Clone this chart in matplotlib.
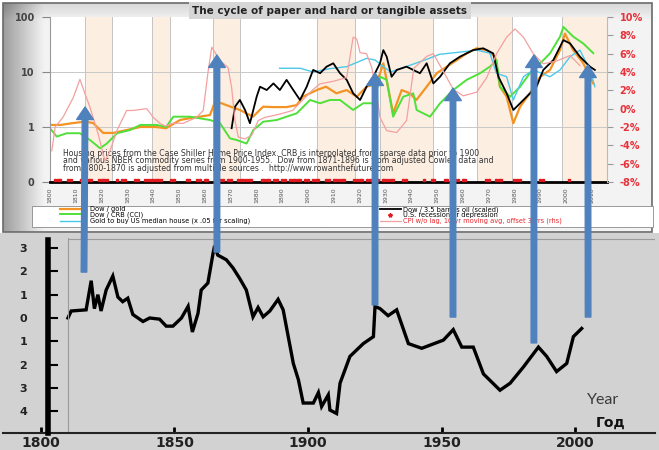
import numpy as np
import matplotlib.pyplot as plt
from matplotlib.patches import Rectangle, ConnectionPatch
from matplotlib.lines import Line2D

# size of the picture in pixels
W, H = 659, 450

# ---------------- top chart: the cycle of paper and hard assets ----------------
# Dow / gold
dg_years = [1800, 1804, 1809, 1813.6, 1816.7, 1820.6, 1824.5, 1829.7, 1835, 1841, 1845, 1850.4, 1854, 1858,
            1862, 1864, 1866.5, 1870, 1873.6, 1878.7, 1882.6, 1886.6, 1891.7, 1895.6, 1898, 1900.8, 1903.4,
            1907, 1911, 1915, 1918.9, 1922.7, 1926.6, 1929.2, 1933, 1936.3, 1939.5, 1942, 1946, 1949.9,
            1953.8, 1957.7, 1961.5, 1965.4, 1969.3, 1972.5, 1974.4, 1977, 1979.6, 1982.2, 1986, 1990,
            1993.8, 1997.7, 1999.6, 2002.8, 2006.7, 2010.6]
dg_vals = [1.09, 1.09, 1.18, 1.25, 1.18, 0.78, 0.78, 0.88, 1.0, 1.0, 0.95, 1.34, 1.44, 1.54,
           1.65, 2.9, 2.7, 2.34, 2.04, 1.54, 2.34, 2.3, 2.3, 2.5, 3.55, 4.1, 4.7,
           5.4, 4.1, 4.7, 3.55, 5.4, 6.2, 14.4, 1.77, 4.7, 4.1, 3.1, 5.4, 9.5,
           12.5, 16.5, 21.8, 27, 25, 19, 5.4, 3.55, 1.17, 2.34, 4.1, 8.2,
           10.9, 25, 50, 25, 14.4, 6.2]

# Dow / CRB
dc_years = [1800, 1802.6, 1806.5, 1811.6, 1815.5, 1819.4, 1822, 1826, 1831, 1835, 1841.3, 1845, 1847.8,
            1854.3, 1862, 1865.9, 1869.8, 1872.4, 1876.2, 1878.8, 1882.7, 1887.9, 1891.7, 1895.6, 1898.2,
            1900.8, 1904.7, 1908.5, 1912.4, 1917.5, 1921.4, 1925.3, 1928, 1930.5, 1933, 1936.9, 1940.8,
            1942.1, 1947.3, 1951.2, 1956.3, 1961.5, 1966.7, 1970.5, 1973.1, 1974.4, 1978.3, 1982.2, 1986,
            1990, 1993.8, 1997.7, 1999, 2002.8, 2006.7, 2010.6]
dc_vals = [0.95, 0.67, 0.77, 0.77, 0.58, 0.41, 0.5, 0.77, 0.88, 1.09, 1.09, 1.0, 1.54,
           1.54, 1.34, 1.17, 0.62, 0.58, 0.5, 0.88, 1.25, 1.34, 1.54, 1.77, 2.34,
           3.1, 2.7, 3.1, 3.1, 2.04, 2.7, 2.7, 8.2, 7.2, 1.54, 3.55, 4.1,
           2.04, 1.54, 2.7, 4.7, 7.2, 9.5, 12.5, 16.5, 5.4, 3.55, 5.4, 9.5,
           14.4, 21.8, 44, 66, 44, 33, 22]

# gold to buy US median house
gh_years = [1889, 1897, 1902, 1908.5, 1915, 1922.7, 1926, 1932, 1938, 1947, 1951, 1959, 1965.4, 1970.5,
            1973, 1977, 1979.6, 1983.5, 1987.3, 1993.8, 1997.7, 2001.6, 2005.4, 2009.3, 2011.2]
gh_vals = [11.7, 11.7, 10, 11.5, 12.5, 17.7, 16.5, 10, 12.5, 17.7, 21, 23, 25, 22,
           9.5, 8.2, 3.1, 8.2, 10.9, 8.2, 10.9, 19, 25, 10.9, 5.4]

# Dow / 3.5 barrels oil
do_years = [1870.4, 1871.7, 1873.6, 1875.6, 1877.5, 1880.1, 1881.4, 1884, 1886.6, 1889.1, 1891.7, 1894.3,
            1896.9, 1899.5, 1902, 1904.7, 1907.2, 1909.8, 1912.4, 1915, 1917.5, 1920.2, 1922.7, 1925.3,
            1927.9, 1929.2, 1930.5, 1932.4, 1934.4, 1938.2, 1943.4, 1946, 1948.6, 1951.2, 1955, 1958.9,
            1964, 1967.9, 1971.8, 1973.8, 1977, 1979.6, 1983.5, 1988.6, 1991.2, 1995.1, 1999, 2001.6,
            2005.4, 2009.3, 2011.2]
do_vals = [0.95, 2.34, 3.1, 2.04, 1.17, 3.55, 5.4, 4.7, 6.2, 4.7, 7.2, 4.7,
           3.1, 5.4, 10.9, 9.5, 12.5, 14.4, 9.5, 7.2, 4.1, 3.1, 5.4, 8.2,
           14.4, 25, 19, 8.2, 10.9, 12.5, 9.5, 14.4, 6.2, 8.2, 14.4, 19,
           25, 27, 21.8, 8.2, 4.1, 2.04, 3.1, 5.4, 10.9, 16.5, 38, 33,
           19, 12.5, 10.9]

# CPI, 10 yr moving avg (right axis, %)
cpi_years = [1800.7, 1802, 1805, 1809, 1811.6, 1813.6, 1815.5, 1818.7, 1821.3, 1823.3, 1825.9, 1829.7,
             1832, 1837.5, 1840, 1842.6, 1844.6, 1847.7, 1851.6, 1856.8, 1859.4, 1861.3, 1862.7, 1864,
             1866, 1869, 1870.4, 1871.7, 1873, 1875.6, 1878.2, 1880.7, 1883.3, 1889, 1894, 1902, 1904.6,
             1910, 1915, 1917.5, 1918.9, 1920.2, 1922.7, 1924.7, 1926.6, 1927.9, 1930.5, 1934.4, 1938.2,
             1941, 1946, 1948.6, 1952.4, 1956.3, 1960.2, 1965.4, 1969.3, 1973.1, 1977, 1980.2, 1983.5,
             1987.3, 1991.2, 1996.4, 2001.6, 2005.4]
cpi_vals = [-4.6, -2.0, -0.95, 1.2, 3.2, 1.6, 0.15, -2.8, -5.7, -4.6, -2.4, -0.2,
            -0.2, 0, -0.95, -1.6, -1.9, -1.6, -1.6, -0.95, -0.2, 4.1, 6.7, 6.1,
            5.2, 4.5, 2.3, -1.3, -3.1, -3.3, -2.9, -1.3, -0.95, -0.6, -0.2, 2.1, 2.7,
            3.0, 3.4, 7.8, 7.6, 6.1, 6.0, 4.5, 1.6, -0.95, -2.4, -2.6, -1.3,
            4.4, 5.7, 6.0, 4.1, 2.1, 1.4, 1.8, 3.4, 6.0, 7.8, 8.7, 7.8,
            6.0, 4.9, 5.2, 5.8, 4.7]

# years marked as U.S. recession or depression
rec_years = [1802, 1803, 1804, 1807, 1808, 1812, 1815, 1816, 1819, 1820, 1821, 1822, 1826, 1828, 1829,
             1833, 1834, 1837, 1838, 1839, 1840, 1841, 1842, 1843, 1847, 1848, 1853, 1854, 1857, 1858,
             1860, 1861, 1865, 1866, 1867, 1869, 1870, 1873, 1874, 1875, 1876, 1877, 1878, 1882, 1883,
             1884, 1885, 1887, 1888, 1890, 1891, 1893, 1894, 1895, 1896, 1897, 1899, 1900, 1902, 1903,
             1904, 1907, 1908, 1910, 1911, 1912, 1913, 1914, 1918, 1919, 1920, 1921, 1923, 1924, 1926,
             1927, 1929, 1930, 1931, 1932, 1933, 1937, 1938, 1945, 1948, 1949, 1953, 1954, 1957, 1958,
             1960, 1961, 1969, 1970, 1973, 1974, 1975, 1980, 1981, 1982, 1990, 1991, 2001, 2008, 2009]

# shaded periods (hard assets)
band_start = [1813.6, 1839.5, 1863, 1903.4, 1928, 1965.5, 1998.5]
band_end = [1824, 1846.5, 1873.6, 1918.2, 1948.4, 1979, 2016]

top_year_ticks = list(range(1800, 2011, 10))
left_ticks = [0.1, 1, 10, 100]
left_labels = ['0', '1', '10', '100']
right_ticks = [-8, -6, -4, -2, 0, 2, 4, 6, 8, 10]

# ---------------- bottom chart ----------------
bot_years = [1810.1, 1811.3, 1816.9, 1818.8, 1820, 1821.3, 1822.5, 1824.4, 1826.9, 1828.8, 1830.6, 1832.5,
             1834.4, 1838.2, 1840.7, 1844.4, 1846.9, 1849.4, 1852.6, 1855.1, 1856.7, 1858.8, 1860, 1862.5,
             1864.4, 1865, 1866.2, 1869.4, 1871.9, 1874.4, 1876.9, 1879.4, 1881.3, 1883.2, 1885.7, 1888.8,
             1890.7, 1892.6, 1894.5, 1896.4, 1898.2, 1902, 1903.9, 1905.1, 1907.6, 1908.2, 1910.7, 1912,
             1915.7, 1920.7, 1924.5, 1925.1, 1927, 1930, 1933.2, 1937.6, 1942.6, 1950.7, 1954.4, 1957.6,
             1961.9, 1965.7, 1971.9, 1975.7, 1980.7, 1986.3, 1989.4, 1993.1, 1996.9, 1999.4, 2002.5]
bot_vals = [0, 0.3, 0.35, 1.6, 0.4, 1.0, 0.3, 1.2, 1.8, 0.9, 0.7, 0.85,
            0.15, -0.15, 0, -0.05, -0.35, -0.35, 0, 0.5, -0.6, 0.2, 1.2, 1.5,
            2.75, 3.1, 2.7, 2.5, 2.15, 1.7, 1.2, 0.05, 0.45, 0.05, 0.3, 0.8,
            0.35, -0.8, -1.95, -2.65, -3.65, -3.65, -3.2, -3.8, -3.3, -3.95, -4.1, -2.8,
            -1.65, -1.1, -0.8, 0.5, 0.4, 0.1, 0.35, -1.1, -1.3, -0.95, -0.5, -1.25,
            -1.25, -2.4, -3.1, -2.8, -2.1, -1.25, -1.65, -2.3, -1.95, -0.8, -0.45]
bot_yticks = [3, 2, 1, 0, -1, -2, -3, -4]
bot_ylabels = ['3', '2', '1', '0', '1', '2', '3', '4']
bot_xticks = [1800, 1850, 1900, 1950, 2000]

# arrows: tail in the bottom chart, head in the top chart
arrow_bot_years = [1816.1, 1865.9, 1925.1, 1954.3, 1984.6, 2004.9]
arrow_bot_vals = [1.97, 2.83, 0.56, 0.04, -1.07, 0.04]
arrow_top_years = [1813.6, 1864.7, 1926, 1956.2, 1987.6, 2008.5]
arrow_top_vals = [2.31, 20.4, 9.6, 5.1, 20.4, 13.4]


def box(l, t, r, b):
    # pixel rectangle -> figure fraction
    return [l / W, 1 - b / H, (r - l) / W, (b - t) / H]


fig = plt.figure(figsize=(W / 100, H / 100), dpi=100)
fig.patch.set_facecolor('white')

# background layer in pixel units
bg = fig.add_axes([0, 0, 1, 1], zorder=-5)
xx = np.linspace(0, 649, 300)
yy = np.linspace(0, 229, 120)
shade = 0.95 - 0.33 * np.clip(1 - xx / 40, 0, 1)[None, :] - 0.10 * np.clip(1 - yy / 16, 0, 1)[:, None]
bg.imshow(shade, cmap='gray', vmin=0, vmax=1, extent=(3, 652, 232, 3), aspect='auto',
          interpolation='bilinear')
bg.add_patch(Rectangle((3, 3), 649, 229, fill=False, ec='#6a6a6a', lw=1.2))
bg.add_patch(Rectangle((0, 233), W, H - 233, fc='#d2d2d2', ec='none'))
bg.add_patch(Rectangle((32, 206), 621, 21, fc='white', ec='#8a8a8a', lw=0.6))
bg.set_xlim(0, W)
bg.set_ylim(H, 0)
bg.axis('off')

# ---- top chart ----
ax = fig.add_axes(box(50, 17, 607, 182))
ax.set_xlim(1800, 2015.9)
ax.set_yscale('log')
ax.set_ylim(0.1, 100)
for a, b in zip(band_start, band_end):
    ax.axvspan(a, b, color='#fdeee2', lw=0, zorder=0)
    ax.axvline(a, color='#c4c4c4', lw=0.7, zorder=0.5)
    ax.axvline(b, color='#c4c4c4', lw=0.7, zorder=0.5)
for v in [1, 10]:
    ax.axhline(v, color='#c8c8c8', lw=0.7, zorder=0.5)

l_dg, = ax.plot(dg_years, dg_vals, color='#f39422', lw=1.6, label='Dow / gold')
l_dc, = ax.plot(dc_years, dc_vals, color='#4fe03a', lw=1.4, label='Dow / CRB (CCI)')
l_gh, = ax.plot(gh_years, gh_vals, color='#4cc9ea', lw=1.0,
                label='Gold to buy US median house (x .05 for scaling)')
l_do, = ax.plot(do_years, do_vals, color='black', lw=1.3, label='Dow / 3.5 barrels oil (scaled)')
ax.plot(rec_years, [0.11] * len(rec_years), ls='none', marker='s', ms=1.8, color='#e0191f', zorder=4)

ax.set_xticks(top_year_ticks)
ax.set_xticklabels([str(y) for y in top_year_ticks], rotation=90, fontsize=4.5, color='#555555')
ax.tick_params(axis='x', length=0, pad=4)
ax.set_yticks(left_ticks)
ax.set_yticklabels(left_labels, fontsize=7, fontweight='bold', color='#444444')
ax.yaxis.set_minor_locator(plt.NullLocator())
ax.tick_params(axis='y', length=6, color='#888888', pad=5)
ax.spines['top'].set_visible(False)
ax.spines['bottom'].set_linewidth(2)
ax.spines['left'].set_color('#999999')
ax.spines['right'].set_visible(False)

ax2 = ax.twinx()
l_cpi, = ax2.plot(cpi_years, cpi_vals, color='#f4a0a0', lw=0.9,
                  label='CPI w/o lag, 10 yr moving avg, offset 3 yrs (rhs)')
ax2.set_ylim(-8, 10)
ax2.set_yticks(right_ticks)
ax2.set_yticklabels([f'{v}%' for v in right_ticks], fontsize=7, fontweight='bold', color='#e8323a')
ax2.tick_params(axis='y', length=4, color='#999999', pad=5)
for s in ['top', 'bottom', 'left']:
    ax2.spines[s].set_visible(False)
ax2.spines['right'].set_color('#bbbbbb')

ax.text(0.023, 0.2,
        'Housing prices from the Case Shiller Home Price Index. CRB is interpolated from sparse data prior to 1900\n'
        'and various NBER commodity series from 1900-1955.  Dow from 1871-1896 is from adjusted Cowles data and\n'
        'from 1800-1870 is adjusted from multiple sources .  http://www.rowanthefuture.com',
        transform=ax.transAxes, fontsize=5.6, color='#333333', va='top', ha='left', linespacing=0.78,
        zorder=6)

fig.text(330 / W, 1 - 10.5 / H, 'The cycle of paper and hard or tangible assets', ha='center', va='center',
         fontsize=7.5, fontweight='bold', color='#222222',
         bbox=dict(fc='#d6d6d6', ec='none', pad=2.5))

# legend in two columns
rec_key = Line2D([], [], ls='none', marker='*', ms=3, color='#e0191f', label='U.S. recession or depression')
leg1 = fig.legend(handles=[l_dg, l_dc, l_gh], loc='upper left', bbox_to_anchor=(60 / W, 1 - 206 / H),
                  frameon=False, fontsize=4.8, handlelength=3.3, handletextpad=1.2, labelspacing=-0.05,
                  borderpad=0, borderaxespad=0)
leg2 = fig.legend(handles=[l_do, rec_key, l_cpi], loc='upper left', bbox_to_anchor=(380 / W, 1 - 206 / H),
                  frameon=False, fontsize=4.8, handlelength=3.1, handletextpad=0.4, labelspacing=-0.05,
                  borderpad=0, borderaxespad=0, numpoints=1)
leg2.get_texts()[2].set_color('#e8262b')

# ---- bottom chart ----
axb = fig.add_axes(box(3, 238, 655, 433))
axb.set_facecolor('#d2d2d2')
axb.set_xlim(1785.77, 2029.96)
axb.set_ylim(-4.936, 3.433)
axb.plot(bot_years, bot_vals, color='black', lw=2.4, solid_joinstyle='miter')
axb.axvline(1810.1, color='#9a9a9a', lw=0.8)
axb.hlines(3.4, 1810.1, 2029.96, color='#9a9a9a', lw=0.8)
for s in ['top', 'left', 'right']:
    axb.spines[s].set_visible(False)
axb.spines['bottom'].set_linewidth(1.5)
axb.spines['bottom'].set_color('#222222')
axb.set_yticks([])
axb.set_xticks(bot_xticks)
axb.set_xticklabels([str(y) for y in bot_xticks], fontsize=10, fontweight='bold', color='#222222')
axb.tick_params(axis='x', direction='in', length=4, width=2, pad=2.5)

# thick left axis with its ticks
axy = fig.add_axes(box(48, 238, 48.2, 433))
axy.set_ylim(-4.936, 3.433)
axy.set_xticks([])
axy.patch.set_visible(False)
for s in ['top', 'bottom', 'right']:
    axy.spines[s].set_visible(False)
axy.spines['left'].set_linewidth(4)
axy.spines['left'].set_bounds(-4.936, 3.35)
axy.set_yticks(bot_yticks)
axy.set_yticklabels(bot_ylabels, fontsize=8, fontweight='bold', color='#222222')
axy.tick_params(axis='y', direction='in', length=7, width=1.5, pad=15)

fig.text(603 / W, 1 - 400 / H, 'Year', ha='center', va='center', fontsize=11.5, color='#3a3a3a',
         family='Lato')
fig.text(611 / W, 1 - 423 / H, 'Год', ha='center', va='center', fontsize=10, fontweight='bold',
         color='#111111')

# blue arrows from the lower curve up to the upper chart
for xb, yb, xt, yt in zip(arrow_bot_years, arrow_bot_vals, arrow_top_years, arrow_top_vals):
    con = ConnectionPatch(xyA=(xb, yb), coordsA=axb.transData, xyB=(xt, yt), coordsB=ax.transData,
                          arrowstyle='simple,head_width=1.2,head_length=0.9,tail_width=0.4',
                          mutation_scale=10, color='#4f81bd', zorder=10)
    fig.add_artist(con)

fig.savefig('out.png', dpi=100)
